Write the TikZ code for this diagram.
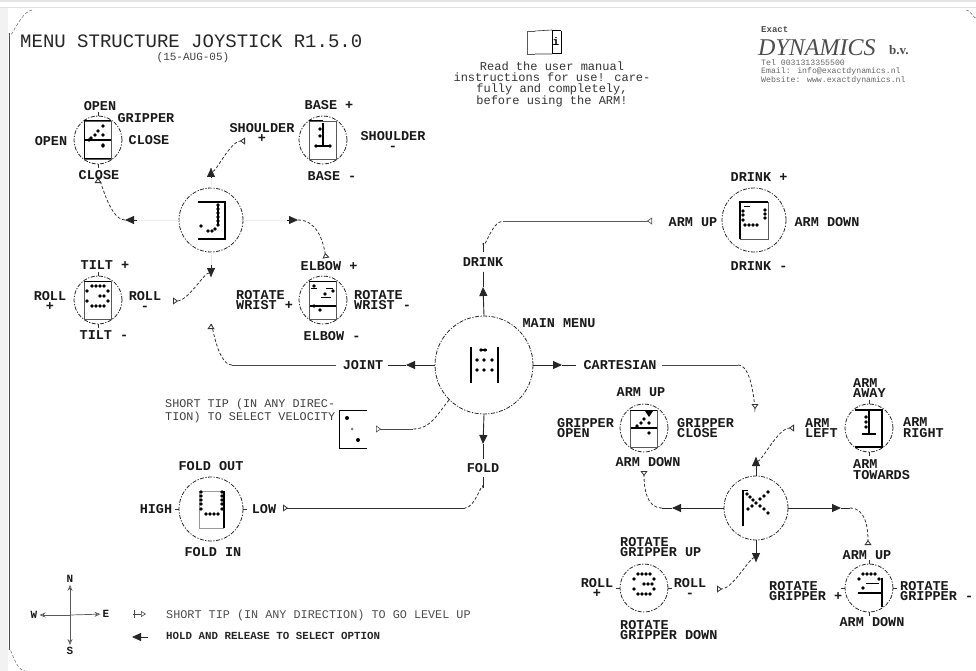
\documentclass[tikz,border=0pt]{standalone}
\usepackage{fontspec}
\setmainfont{Liberation Mono}
\newfontfamily\logofont{Liberation Serif}
\usetikzlibrary{arrows.meta,calc}
\newcommand\pixs[1]{\foreach \a/\b in {#1} \fill (\a,\b) circle (1.9pt);}
\tikzset{
  x=1pt,y=-1pt,
  lb/.style={inner sep=0pt,text=black!90,font=\fontsize{13.5}{10.8}\selectfont\bfseries},
  lbl/.style={lb,align=left,anchor=west},
  plain/.style={inner sep=0pt,text=black!80,font=\fontsize{12}{11}\selectfont},
  ring/.style={circle,draw=black!85,inner sep=0pt,line width=0.8pt,dash pattern=on 4pt off 1.5pt on 1.2pt off 1.5pt},
  smallring/.style={ring,minimum size=48pt},
  bigring/.style={ring,minimum size=64pt},
  hugering/.style={ring,minimum size=98pt},
  thinf/.style={line width=0.6pt,draw=black!65},
  thickf/.style={line width=1.7pt,draw=black},
  stem/.style={line width=0.9pt,black!85},
  faint/.style={line width=0.2pt,black!8},
  solidtip/.style={-{Triangle[length=9pt,width=8pt]},line width=0.9pt,black!85},
  softcurve/.style={line width=0.8pt,black!80,densely dashed},
  opentip/.style={-{Triangle[open,reversed,length=5pt,width=7pt,fill=white]}},
  legendtip/.style={-{Triangle[open,length=5pt,width=6pt]}},
  tickm/.style={line width=0.6pt,black!80}
}
\begin{document}
\begin{tikzpicture}
\useasboundingbox (0,0) rectangle (976,671);
% sheet edge
\fill[black!10] (0,0) rectangle (976,2);
\fill[black!5] (0,7) rectangle (8,671);
\draw[black!12,line width=0.6pt] (0,7) -- (976,7);
\draw[line width=1pt,black!70] (9,33) -- (9,650);
\draw[line width=0.5pt,black!60,densely dashed] (9,33) to[out=-90,in=180] (33,10);
\draw[line width=0.5pt,black!60,densely dashed] (9,650) to[out=90,in=180] (25,671);
\draw[line width=0.5pt,black!60,densely dashed] (966,10) to[out=0,in=-90] (976,17);

% title
\node[anchor=west,inner sep=0pt,text=black!85,font=\fontsize{19}{19}\selectfont] (title) at (20,41) {MENU STRUCTURE JOYSTICK R1.5.0};
\node[inner sep=0pt,text=black!75,font=\fontsize{11}{11}\selectfont] (date) at (193,58) {(15-AUG-05)};

% read-the-manual note
\draw[thinf,line width=0.9pt] (535,31) -- (527,31) -- (527,54) -- (535,54);
\draw[line width=0.6pt,black!80] (535,31) -- (552,30) (535,54) -- (552,54);
\draw[thickf,line width=1pt] (552,31) -- (561,31) (552,54) -- (561,54) (561,31) -- (561,54);
\draw[line width=0.8pt] (552,31) -- (552,54);
\node[inner sep=0pt,font=\fontsize{11}{11}\selectfont\bfseries] (infoi) at (556,42) {i};
\node[plain,align=center] (manual) at (552,84) {Read the user manual\\instructions for use! care-\\fully and completely,\\before using the ARM!};

% logo
\node[anchor=west,inner sep=0pt,text=black!70,font=\fontsize{9}{9}\selectfont\bfseries] (exact) at (761,30) {Exact};
\node[anchor=west,inner sep=0pt,text=black!70,font=\logofont\itshape\fontsize{24}{24}\selectfont] (dyn) at (758,48) {DYNAMICS};
\node[anchor=west,inner sep=0pt,text=black!70,font=\logofont\fontsize{13}{13}\selectfont\bfseries] (bv) at (889,50) {b.v.};
\node[anchor=west,align=left,inner sep=0pt,text=black!60,font=\fontsize{8.2}{7.6}\selectfont] (contact) at (761,72) {Tel 0031313355500\\Email: info@exactdynamics.nl\\Website: www.exactdynamics.nl};

% rings
\node[smallring] (grip) at (98,140) {};
\node[smallring] (shoulder) at (323,140) {};
\node[bigring] (joint) at (211,220) {};
\node[smallring] (tilt) at (98,300) {};
\node[smallring] (elbow) at (323,300) {};
\node[hugering] (main) at (484,365) {};
\node[bigring] (drink) at (754,220) {};
\node[bigring] (fold) at (211,509) {};
\node[bigring] (cart) at (756,508) {};
\node[smallring] (cgrip) at (644,428) {};
\node[smallring] (carm) at (869,428) {};
\node[smallring] (croll) at (644,588) {};
\node[smallring] (crot) at (869,588) {};

% ticks on rings
\foreach \n/\s in {grip/1,tilt/1,carm/1,crot/1} {
  \draw[tickm] (\n.north) -- ++(0,-4);
  \draw[tickm] (\n.south) -- ++(0,4);
}
\foreach \n/\s in {fold/1,croll/1,crot/1} {
  \draw[tickm] (\n.west) -- ++(-4,0);
  \draw[tickm] (\n.east) -- ++(4,0);
}

% icon: gripper
\begin{scope}[shift={(98,140)}]
  \draw[thinf] (-14,-19) rectangle (13,19);
  \draw[thickf,line width=1pt] (-14,-19) -- (13,-19) (-14,-19) -- (-14,19) (-14,19) -- (13,19);
  \draw[thickf] (-13,0) -- (13,0);
  \pixs{5/-14,0/-9,-3/-5,-7/-2,5/-5,5/5,5/6,-9/0}
\end{scope}
% icon: shoulder
\begin{scope}[shift={(323,140)}]
  \draw[thinf] (-14,-19) rectangle (13,19);
  \draw[thickf,line width=1pt] (-14,-19) -- (0,-19);
  \draw[thickf] (0,-17) -- (0,6);
  \draw[thickf] (-7,6) -- (7,6);
  \pixs{-3/-11,-3/-4,-7/6,7/6}
\end{scope}
% icon: J
\begin{scope}[shift={(211,220)}]
  \draw[thickf] (-13,-18) -- (14,-18) -- (14,19) -- (-13,19);
  \pixs{7/-15,7/-11,7/-7,7/-3,7/1,7/5,-10/6,-3/11,1/11,4/9}
  \draw[thickf] (7,-15) -- (7,6);
\end{scope}
% icon: tilt
\begin{scope}[shift={(98,300)}]
  \draw[thinf] (-14,-19) rectangle (13,19);
  \draw[thickf,line width=1pt] (-14,-19) -- (13,-19);
  \pixs{-6/-14,-2/-14,2/-14,6/-14,-11/-9,10/-9,2/-4,6/-4,-11/1,10/1,-6/6,-2/6,2/6,6/6}
\end{scope}
% icon: elbow
\begin{scope}[shift={(323,300)}]
  \draw[thinf] (-14,-19) rectangle (13,19);
  \draw[thickf,line width=1pt] (-14,-19) -- (13,-19);
  \draw[thickf,line width=1pt] (-12,-12) -- (-6,-12) (10,-12) -- (3,-12);
  \draw[thickf,line width=1pt] (-2,-3) -- (8,-3);
  \draw[thickf] (-13,6) -- (13,6);
  \pixs{-9/-14,-9/6,2/-6,-3/10,10/-9}
\end{scope}
% icon: drink
\begin{scope}[shift={(754,220)}]
  \draw[thinf] (-14,-18) rectangle (14,19);
  \draw[thickf] (-14,19) -- (-14,-18) -- (14,-18);
  \draw[thickf,line width=1pt] (-10,-14) -- (-4,-14);
  \pixs{11/-10,11/-6,11/-2,-11/-9,-11/-5,-11/0,-9/5,-5/5,-1/5,3/5}
\end{scope}
% icon: fold
\begin{scope}[shift={(211,509)}]
  \draw[line width=0.5pt,black!40] (-12,-18) rectangle (12,19);
  \draw[thickf] (13,-18) -- (13,19);
  \pixs{-10/-17,-10/-13,-10/-9,-10/-5,-10/0,11/-17,11/-13,11/-9,11/-5,11/0,-5/5,-1/5,3/5,7/5}
\end{scope}
% icon: main menu
\begin{scope}[shift={(484,365)}]
  \draw[thickf,line width=1.4pt] (-13,-18) -- (-13,18) (14,-18) -- (14,18);
  \pixs{-3/-15,1/-15,-7/-5,0/-5,8/-5,-7/5,0/5,8/5}
  \draw[thickf,line width=2pt] (-4,-15) -- (3,-15);
\end{scope}
% icon: velocity
\draw[thickf,line width=1pt] (367,410) -- (339,410) -- (339,448) -- (367,448);
\node[circle,fill=black,minimum size=4pt,inner sep=0pt] (vdot1) at (347,418) {};
\node[circle,fill=black!50,minimum size=3pt,inner sep=0pt] (vdot2) at (352,429) {};
\node[circle,fill=black,minimum size=4pt,inner sep=0pt] (vdot3) at (358,440) {};
% icon: cartesian
\begin{scope}[shift={(756,508)}]
  \draw[thickf] (-13,-18) -- (-13,18);
  \draw[line width=0.8pt] (-13,-18) -- (-8,-18);
  \pixs{12/-16,8/-12,4/-9,0/-5,-4/-2,-8/1,-9/-14,-6/-11,-3/-8,4/-2,8/1,12/5}
\end{scope}
% icon: cartesian gripper
\begin{scope}[shift={(644,428)}]
  \draw[thinf] (-14,-18) rectangle (13,19);
  \draw[thickf,line width=1pt] (-14,-18) -- (13,-18);
  \draw[thickf] (-13,0) -- (13,0);
  \fill (1,-17) -- (9,-17) -- (5,-11) -- cycle;
  \pixs{0/-9,-3/-5,-7/-2,5/-5,5/5}
\end{scope}
% icon: cartesian arm
\begin{scope}[shift={(869,428)}]
  \draw[thickf,line width=1.2pt] (-14,-18) -- (13,-18) -- (13,19) -- (-14,19);
  \draw[thickf] (0,-17) -- (0,6);
  \draw[thickf] (-7,6) -- (7,6);
  \pixs{-3/-11,-3/-6,-3/-1}
\end{scope}
% icon: cartesian 3
\begin{scope}[shift={(644,588)}]
  \pixs{-6/-14,-2/-14,2/-14,6/-14,-10/-9,10/-9,0/-4,4/-4,8/-4,-10/1,10/1,-6/6,-2/6,2/6,6/6}
\end{scope}
% icon: cartesian 2
\begin{scope}[shift={(869,588)}]
  \draw[thickf] (13,-10) -- (13,19);
  \draw[thickf] (-11,5) -- (13,5);
  \draw[thickf,line width=1pt] (-3,-5) -- (10,-5);
  \pixs{-10/-9,-6/-14,-2/-14,2/-14,6/-14,10/-9,-6/0}
\end{scope}

% free ends of the connectors
\coordinate (jUpTip) at (211,168);
\coordinate (jUpEnd) at (245,141);
\coordinate (jLeftTip) at (125,220);
\coordinate (jLeftEnd) at (98,183);
\coordinate (jDownTip) at (211,277);
\coordinate (jDownEnd) at (173,301);
\coordinate (jRightTip) at (298,220);
\coordinate (jRightEnd) at (326,258);
\coordinate (mLeftTip) at (406,365);
\coordinate (jointL) at (336,365);
\coordinate (jointR) at (388,365);
\coordinate (jointEnd) at (211,329);
\coordinate (mUpTip) at (483,287);
\coordinate (drinkL) at (483,272);
\coordinate (drinkU) at (483,252);
\coordinate (drinkEnd) at (652,221);
\coordinate (mRightTip) at (562,365);
\coordinate (cartL) at (576,365);
\coordinate (cartR) at (662,365);
\coordinate (cartEnd) at (755,404);
\coordinate (mDownTip) at (483,444);
\coordinate (foldT) at (483,459);
\coordinate (foldB) at (483,477);
\coordinate (foldEnd) at (283,508);
\coordinate (velEnd) at (376,429);
\coordinate (cUpTip) at (756,457);
\coordinate (cUpEnd) at (794,428);
\coordinate (cLeftTip) at (672,508);
\coordinate (cLeftEnd) at (644,471);
\coordinate (cRightTip) at (841,508);
\coordinate (cRightEnd) at (868,545);
\coordinate (cDownTip) at (756,562);
\coordinate (cDownEnd) at (717,589);

% connectors of the joint menu
\draw[faint] (joint.north) -- (jUpTip);
\draw[solidtip] ($(jUpTip)+(0,9)$) -- (jUpTip);
\draw[softcurve,opentip] (jUpTip) to[out=-90,in=180] (jUpEnd);
\draw[faint] (joint.west) -- (jLeftTip);
\draw[solidtip] ($(jLeftTip)+(12,0)$) -- (jLeftTip);
\draw[softcurve,opentip] (jLeftTip) to[out=180,in=90] (jLeftEnd);
\draw[faint] (joint.south) -- (jDownTip);
\draw[solidtip] ($(jDownTip)+(0,-12)$) -- (jDownTip);
\draw[softcurve,opentip] (jDownTip) to[out=90,in=0] (jDownEnd);
\draw[faint] (joint.east) -- (jRightTip);
\draw[solidtip] ($(jRightTip)+(-11,0)$) -- (jRightTip);
\draw[softcurve,opentip] (jRightTip) to[out=0,in=100] (jRightEnd);

% connectors of the main menu
\draw[solidtip] (main.west) -- (mLeftTip);
\draw[stem] (mLeftTip) -- (jointR);
\draw[line width=0.8pt,black!70] (jointL) -- (232,365);
\draw[softcurve,opentip] (232,365) to[out=180,in=90] (jointEnd);
\draw[solidtip] (main.north) -- (mUpTip);
\draw[stem] (mUpTip) -- (drinkL);
\draw[stem] (drinkU) -- (483,243);
\draw[softcurve] (483,243) to[out=-90,in=180] (503,221);
\draw[line width=0.7pt,black!65,opentip] (503,221) -- (drinkEnd);
\draw[solidtip] (main.east) -- (mRightTip);
\draw[stem] (mRightTip) -- (cartL);
\draw[line width=0.8pt,black!70] (cartR) -- (738,365);
\draw[softcurve,opentip] (738,365) to[out=0,in=-90] (cartEnd);
\draw[solidtip] (main.south) -- (mDownTip);
\draw[stem] (mDownTip) -- (foldT);
\draw[stem] (foldB) -- (483,488);
\draw[softcurve] (483,488) to[out=90,in=0] (465,508);
\draw[line width=0.8pt,black!80,opentip] (465,508) -- (foldEnd);
\draw[softcurve] (main.south west) to[out=-130,in=0] (413,429);
\draw[line width=0.6pt,black!70,opentip] (413,429) -- (velEnd);

% connectors of the cartesian menu
\draw[solidtip] (cart.north) -- (cUpTip);
\draw[softcurve,opentip] (cUpTip) to[out=-90,in=180] (cUpEnd);
\draw[solidtip] (cart.west) -- (cLeftTip);
\draw[stem] (cLeftTip) -- (662,508);
\draw[softcurve,opentip] (662,508) to[out=180,in=-90] (cLeftEnd);
\draw[solidtip] (cart.east) -- (cRightTip);
\draw[stem] (cRightTip) -- (850,508);
\draw[softcurve,opentip] (850,508) to[out=0,in=90] (cRightEnd);
\draw[solidtip] (cart.south) -- (cDownTip);
\draw[softcurve,opentip] (cDownTip) to[out=90,in=0] (cDownEnd);

% labels: gripper
\node[lb] (gOpenT) at (100,106) {OPEN};
\node[lb] (gGrip) at (146,118) {GRIPPER};
\node[lb] (gOpenL) at (51,141) {OPEN};
\node[lb] (gCloseR) at (149,140) {CLOSE};
\node[lb] (gCloseB) at (99,175) {CLOSE};
% labels: shoulder
\node[lb] (sBaseP) at (329,105) {BASE +};
\node[lb,align=center] (sShL) at (262,133) {SHOULDER\\+};
\node[lb,align=center] (sShR) at (393,141) {SHOULDER\\-};
\node[lb] (sBaseM) at (332,176) {BASE -};
% labels: tilt
\node[lb] (tTiltP) at (105,265) {TILT +};
\node[lb,align=center] (tRollL) at (50,301) {ROLL\\+};
\node[lb,align=center] (tRollR) at (145,301) {ROLL\\-};
\node[lb] (tTiltM) at (104,335) {TILT -};
% labels: elbow
\node[lb] (eElbP) at (329,266) {ELBOW +};
\node[lbl] (eRotL) at (236,300) {ROTATE\\WRIST +};
\node[lbl] (eRotR) at (354,300) {ROTATE\\WRIST -};
\node[lb] (eElbM) at (332,336) {ELBOW -};
% labels: drink
\node[lb] (dDrP) at (759,177) {DRINK +};
\node[lb] (dUp) at (693,222) {ARM UP};
\node[lb] (dDown) at (827,222) {ARM DOWN};
\node[lb] (dDrM) at (759,266) {DRINK -};
% labels: main
\node[lb] (mMain) at (559,323) {MAIN MENU};
\node[lb] (mDrink) at (483,262) {DRINK};
\node[lb] (mJoint) at (363,365) {JOINT};
\node[lb] (mCart) at (620,365) {CARTESIAN};
\node[lb] (mFold) at (483,468) {FOLD};
\node[anchor=west,align=left,inner sep=0pt,text=black!75,font=\fontsize{11.8}{13}\selectfont] (mVel) at (165,411) {SHORT TIP (IN ANY DIREC-\\TION) TO SELECT VELOCITY};
% labels: fold
\node[lb] (fOut) at (211,466) {FOLD OUT};
\node[lb] (fIn) at (213,552) {FOLD IN};
\node[lb] (fHigh) at (156,509) {HIGH};
\node[lb] (fLow) at (264,509) {LOW};
% labels: cartesian gripper
\node[lb] (cgUp) at (641,392) {ARM UP};
\node[lbl] (cgOpen) at (557,428) {GRIPPER\\OPEN};
\node[lbl] (cgClose) at (677,428) {GRIPPER\\CLOSE};
\node[lb] (cgDown) at (648,462) {ARM DOWN};
% labels: cartesian arm
\node[lbl] (caAway) at (853,388) {ARM\\AWAY};
\node[lbl] (caLeft) at (805,428) {ARM\\LEFT};
\node[lbl] (caRight) at (903,428) {ARM\\RIGHT};
\node[lbl] (caTow) at (853,470) {ARM\\TOWARDS};
% labels: cartesian roll
\node[lbl] (crUp) at (620,547) {ROTATE\\GRIPPER UP};
\node[lb,align=center] (crRollL) at (597,588) {ROLL\\+};
\node[lb,align=center] (crRollR) at (690,588) {ROLL\\-};
\node[lbl] (crDown) at (620,630) {ROTATE\\GRIPPER DOWN};
% labels: cartesian rotate
\node[lb] (ctUp) at (867,555) {ARM UP};
\node[lbl] (ctRotL) at (769,591) {ROTATE\\GRIPPER +};
\node[lbl] (ctRotR) at (900,591) {ROTATE\\GRIPPER -};
\node[lb] (ctDown) at (872,622) {ARM DOWN};

% compass
\coordinate (compC) at (70,615);
\node[lb,font=\fontsize{11}{11}\selectfont\bfseries] (cN) at (70,579) {N};
\node[lb,font=\fontsize{11}{11}\selectfont\bfseries] (cS) at (70,651) {S};
\node[lb,font=\fontsize{11}{11}\selectfont\bfseries] (cW) at (34,615) {W};
\node[lb,font=\fontsize{11}{11}\selectfont\bfseries] (cE) at (106,614) {E};
\foreach \t in {cN,cS,cW,cE}
  \draw[line width=0.7pt,black!65,-{Stealth[length=6pt,width=5pt,open]},shorten >=2pt] (compC) -- (\t);

% legend
\coordinate (legA) at (133,614);
\coordinate (legB) at (146,614);
\draw[line width=0.6pt,black!70,legendtip] (legA) -- (legB);
\draw[line width=0.6pt,black!70] (134,610) -- (134,618);
\coordinate (legC) at (148,637);
\coordinate (legD) at (132,637);
\draw[solidtip] (legC) -- (legD);
\node[anchor=west,inner sep=0pt,text=black!70,font=\fontsize{11.8}{12}\selectfont] (leg1) at (166,615) {SHORT TIP (IN ANY DIRECTION) TO GO LEVEL UP};
\node[anchor=west,inner sep=0pt,text=black!85,font=\fontsize{10.8}{12}\selectfont\bfseries] (leg2) at (166,636) {HOLD AND RELEASE TO SELECT OPTION};
\end{tikzpicture}
\end{document}
